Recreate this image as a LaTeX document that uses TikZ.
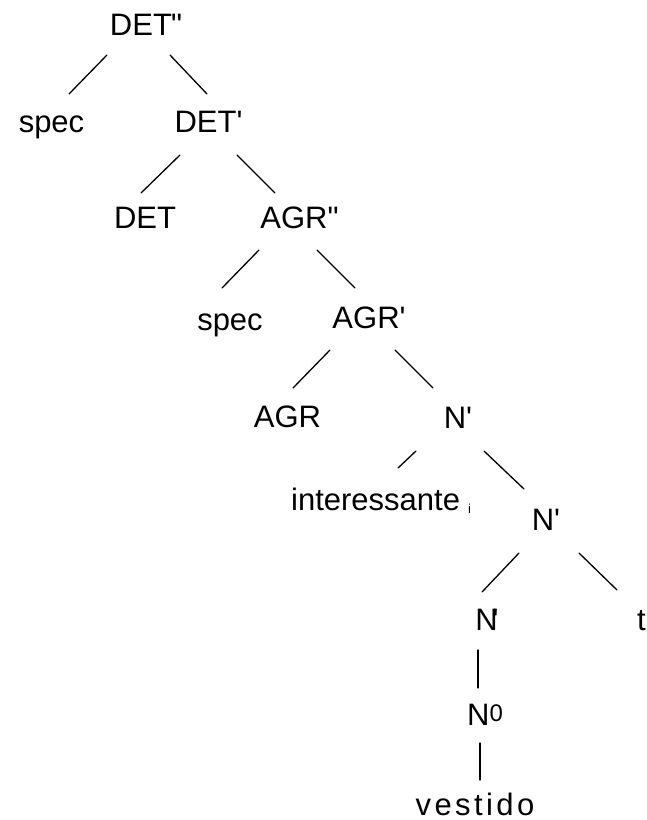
\documentclass[tikz,border=0pt]{standalone}
\usepackage{fontspec}
\setmainfont{Liberation Sans}
\begin{document}
\begin{tikzpicture}[x=1pt,y=-1pt,
  lbl/.style={inner sep=0pt,anchor=base,font=\fontsize{31}{31}\selectfont},
  edge/.style={line width=1.3pt,line cap=round}]
\useasboundingbox (0,0) rectangle (646,820);
% nodes
\node[lbl] (detpp) at (146,35) {DET\kern-1pt\textquotedbl};
\node[lbl] (spec1) at (51.5,132) {spec};
\node[lbl] (detp) at (208.5,132) {DET\textquotesingle};
\node[lbl] (det) at (145,228) {DET};
\node[lbl] (agrpp) at (299.5,228) {AGR\textquotedbl};
\node[lbl] (spec2) at (230,330) {spec};
\node[lbl] (agrp) at (369,328) {AGR\textquotesingle};
\node[lbl] (agr) at (287.5,427) {AGR};
\node[lbl] (na) at (458,428) {N\textquotesingle};
\node[lbl,anchor=base west] (inter) at (291,510) {interessante\hspace{8pt}{\fontsize{13}{13}\selectfont\raisebox{-3pt}{i}}};
\node[lbl] (nb) at (546,530) {N\textquotesingle};
\node[lbl] (nc) at (487,630) {N\kern-5pt\textquotesingle};
\node[lbl] (trace) at (641.5,630) {t};
\node[lbl,anchor=base west] (nzero) at (467,725) {N\raisebox{4pt}{\fontsize{24}{24}\selectfont 0}};
\node[lbl] (vest) at (475,815) {\addfontfeature{LetterSpace=11}vestido};
% edges
\draw[edge] ([shift={(-39,20)}]detpp.base) -- ([shift={(17.5,-38)}]spec1.base);
\draw[edge] ([shift={(24,20)}]detpp.base) -- ([shift={(-1.5,-38)}]detp.base);
\draw[edge] ([shift={(-28.5,23)}]detp.base) -- ([shift={(-4,-35)}]det.base);
\draw[edge] ([shift={(28.5,23)}]detp.base) -- ([shift={(-24.5,-35)}]agrpp.base);
\draw[edge] ([shift={(-40.5,22)}]agrpp.base) -- ([shift={(-8,-42)}]spec2.base);
\draw[edge] ([shift={(17.5,22)}]agrpp.base) -- ([shift={(-14,-40)}]agrp.base);
\draw[edge] ([shift={(-39,22)}]agrp.base) -- ([shift={(5.5,-39)}]agr.base);
\draw[edge] ([shift={(26,22)}]agrp.base) -- ([shift={(-25,-40)}]na.base);
\draw[edge] ([shift={(-42,23)}]na.base) -- ([shift={(107,-42)}]inter.base west);
\draw[edge] ([shift={(26,23)}]na.base) -- ([shift={(-22,-41)}]nb.base);
\draw[edge] ([shift={(-27,23)}]nb.base) -- ([shift={(-5,-38)}]nc.base);
\draw[edge] ([shift={(33,23)}]nb.base) -- ([shift={(-24.5,-40)}]trace.base);
\draw[edge] ([shift={(-9,20)}]nc.base) -- ([shift={(11,-37)}]nzero.base west);
\draw[edge] ([shift={(13,18)}]nzero.base west) -- ([shift={(5,-35)}]vest.base);
\end{tikzpicture}
\end{document}
